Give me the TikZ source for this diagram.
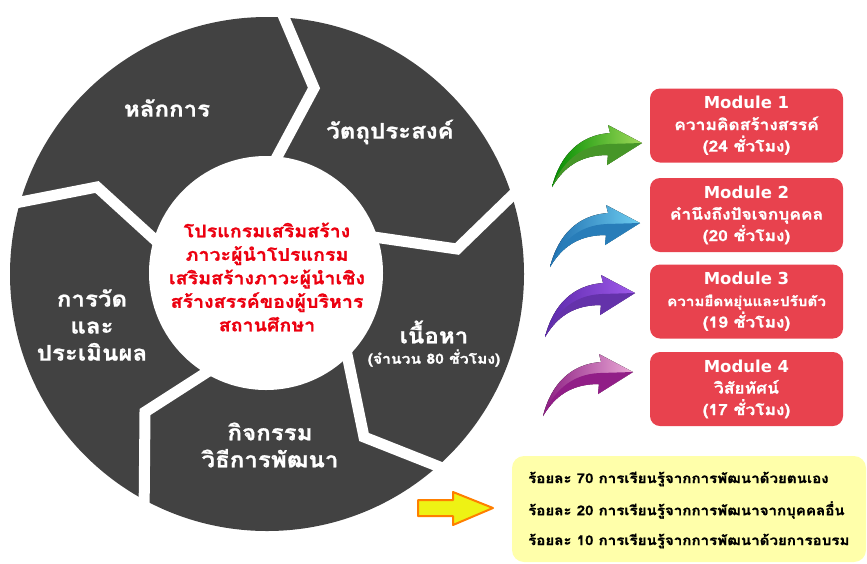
\documentclass[tikz,border=0pt]{standalone}
\usepackage{fontspec}
\newfontfamily\thai[Script=Thai, FakeStretch=1.12, BoldFeatures={FakeBold=1}]{Loma}
\newfontfamily\latinfont{DejaVu Sans}
\definecolor{ringgray}{HTML}{424242}
\definecolor{centerred}{HTML}{EC0010}
\definecolor{modred}{HTML}{E8424E}
\definecolor{paleyellow}{HTML}{FFFFAA}
\definecolor{arrowyellow}{HTML}{EEF214}
\definecolor{arroworange}{HTML}{FF7F00}
\tikzset{
  seglabel/.style={text=white, font=\thai\bfseries\fontsize{21.5}{27}\selectfont, align=center, inner sep=0pt},
  smalllabel/.style={text=white, font=\thai\bfseries\fontsize{14}{18}\selectfont, inner sep=0pt},
  centertext/.style={text=centerred, font=\thai\bfseries\fontsize{17.5}{23.5}\selectfont, align=center, inner sep=0pt},
  modbox/.style={fill=modred, rounded corners=10pt, minimum width=193pt, minimum height=74pt, text=white,
    font=\thai\bfseries\fontsize{15.5}{21.5}\selectfont, align=center, inner sep=0pt},
  yelltext/.style={text=black, font=\thai\bfseries\fontsize{13.5}{18}\selectfont, anchor=west, inner sep=0pt},
  gapband/.style={draw=white, line width=11pt, line join=miter, line cap=butt},
  ribbon up/.style={left color=green!60!black, right color=green!50},
  ribbon low/.style={fill=green!40!black},
  ribbon/.pic={
    \fill[ribbon up] (-90,44) .. controls (-82,12) and (-62,-8) .. (-32,-10) -- (-34,-18) -- (0,0) -- (-35,22) -- (-34,12)
       .. controls (-62,12) and (-78,24) .. cycle;
    \fill[ribbon low] (-90,44) .. controls (-80,20) and (-62,2) .. (-33,1) -- (0,0) -- (-35,22) -- (-34,12)
       .. controls (-62,12) and (-78,24) .. cycle;
  }
}
\newcommand{\modtitlefont}{\latinfont\bfseries\fontsize{16.5}{21.5}\selectfont}
\newcommand{\modsmallfont}{\fontsize{13.6}{21.5}\selectfont}
\begin{document}
\begin{tikzpicture}[x=1pt,y=-1pt]
\useasboundingbox (0,0) rectangle (867,563);
% ring
\fill[ringgray] (267,274) circle[radius=257pt];
\draw[gapband] (277,1) -- (314,88) -- (270,170);
\draw[gapband] (525,183) -- (457,249) -- (360,235);
\draw[gapband] (343,335) -- (364,437) -- (455,473);
\draw[gapband] (215,367) -- (145,412) -- (144,520);
\draw[gapband] (0,206) -- (97,187) -- (165,249);
\fill[white] (266,273) circle[radius=117pt];
% segment labels
\node[seglabel] (s1) at (167,108) {หลักการ};
\node[seglabel] (s2) at (390,132) {วัตถุประสงค์};
\node[seglabel] (s3) at (434,332) {เนื้อหา};
\node[smalllabel] (s3b) at (434,358) {(จำนวน 80 ชั่วโมง)};
\node[seglabel] (s4) at (270,445) {กิจกรรม\\วิธีการพัฒนา};
\node[seglabel] (s5) at (92,325) {การวัด\\และ\\ประเมินผล};
\node[centertext] (c) at (267,277) {โปรแกรมเสริมสร้าง\\ภาวะผู้นำโปรแกรม\\เสริมสร้างภาวะผู้นำเชิง\\สร้างสรรค์ของผู้บริหาร\\สถานศึกษา};
% modules
\node[modbox] (m1) at (746.5,125.5) {{\modtitlefont Module 1}\\ความคิดสร้างสรรค์\\(24 ชั่วโมง)};
\node[modbox] (m2) at (746.5,215) {{\modtitlefont Module 2}\\คำนึงถึงปัจเจกบุคคล\\(20 ชั่วโมง)};
\node[modbox] (m3) at (746.5,301.5) {{\modtitlefont Module 3}\\{\modsmallfont ความยืดหยุ่นและปรับตัว}\\(19 ชั่วโมง)};
\node[modbox] (m4) at (746.5,389) {{\modtitlefont Module 4}\\วิสัยทัศน์\\(17 ชั่วโมง)};
% ribbons
\pic[ribbon up/.style={left color=green!55!black, right color={rgb,255:red,160;green,218;blue,90}},
     ribbon low/.style={fill={rgb,255:red,70;green,150;blue,40}}] at (642,143) {ribbon};
\pic[ribbon up/.style={left color={rgb,255:red,30;green,110;blue,175}, right color={rgb,255:red,110;green,205;blue,240}},
     ribbon low/.style={fill={rgb,255:red,40;green,125;blue,185}}] at (640,223) {ribbon};
\pic[ribbon up/.style={left color={rgb,255:red,90;green,40;blue,170}, right color={rgb,255:red,160;green,90;blue,235}},
     ribbon low/.style={fill={rgb,255:red,100;green,50;blue,170}}] at (635,293) {ribbon};
\pic[ribbon up/.style={left color={rgb,255:red,140;green,30;blue,130}, right color={rgb,255:red,235;green,170;blue,215}},
     ribbon low/.style={fill={rgb,255:red,145;green,30;blue,135}}] at (633,372) {ribbon};
% yellow box
\fill[paleyellow, rounded corners=12pt] (512,456) rectangle (866,562);
\node[yelltext] (y1) at (528,479) {ร้อยละ 70 การเรียนรู้จากการพัฒนาด้วยตนเอง};
\node[yelltext] (y2) at (528,510) {ร้อยละ 20 การเรียนรู้จากการพัฒนาจากบุคคลอื่น};
\node[yelltext] (y3) at (528,541) {ร้อยละ 10 การเรียนรู้จากการพัฒนาด้วยการอบรม};
% yellow arrow
\draw[fill=arrowyellow, draw=arroworange, line width=2pt, line join=round]
  (418,500) -- (453,500) -- (453,492) -- (493,508) -- (453,525) -- (453,516) -- (418,516) -- cycle;
\end{tikzpicture}
\end{document}
